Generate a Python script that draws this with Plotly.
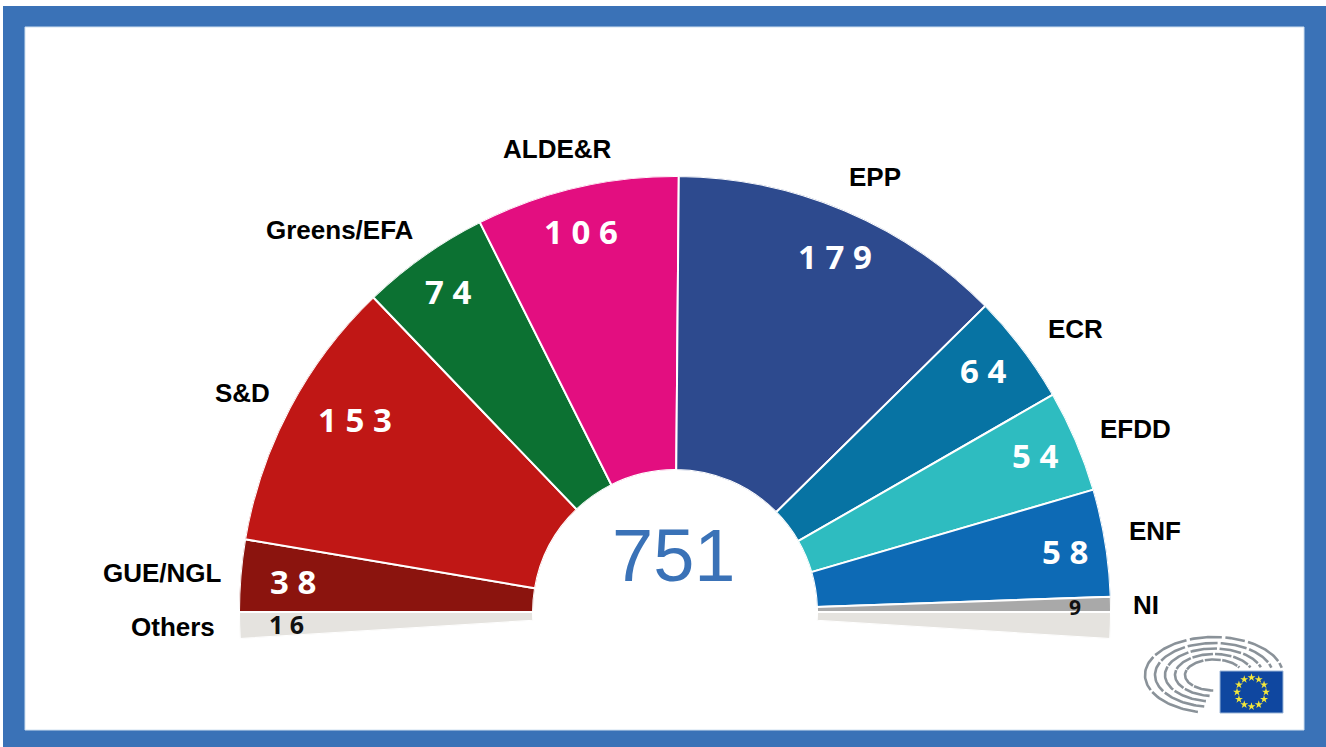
import numpy as np
import plotly.graph_objects as go

W, H = 1326, 747

# ---- data, ordered clockwise from the left end of the hemicycle ----
groups = ["Others", "GUE/NGL", "S&D", "Greens/EFA", "ALDE&R", "EPP", "ECR", "EFDD", "ENF", "NI", "Others"]
seats = [16, 38, 153, 74, 106, 179, 64, 54, 58, 9, 16]
# angular span of each sector, degrees
spans_deg = [3.55, 9.6, 36.6, 17.2, 27.1, 44.9, 14.7, 13.6, 14.3, 2.0, 3.55]
total_seats = 751
colors = ["#E5E3DF", "#8B140E", "#C01715", "#0C7132", "#E30E80", "#2D4A8E",
          "#0773A3", "#2EBCC0", "#0D6AB5", "#A9A9A9", "#E5E3DF"]

# ---- label placement (pixel centres) ----
name_xy = {"ALDE&R": (557, 149), "EPP": (875, 177), "Greens/EFA": (340, 230), "ECR": (1075, 329),
           "S&D": (242, 393), "EFDD": (1135, 429), "GUE/NGL": (162, 573), "ENF": (1155, 531),
           "Others": (173, 627), "NI": (1146, 605)}
value_xy = {"ALDE&R": (581, 231), "EPP": (835, 256), "Greens/EFA": (448, 291), "ECR": (983, 370),
            "S&D": (355, 419), "EFDD": (1035, 455), "GUE/NGL": (293, 581), "ENF": (1065, 551),
            "Others": (286, 624), "NI": (1075, 607)}

BLUE = "#3A72B7"
SANS = "Liberation Sans, Arial, sans-serif"
NUM = "Open Sans, Noto Sans, sans-serif"

# sector centres: start at the lower left end and run clockwise
edges = 180 + spans_deg[0] - np.concatenate([[0], np.cumsum(spans_deg)])
mids = (edges[:-1] + edges[1:]) / 2

fig = go.Figure()
fig.add_trace(go.Barpolar(
    r=[1] * len(seats), theta=mids, width=spans_deg,
    marker=dict(color=colors, line=dict(color="white", width=2)),
    text=groups, customdata=seats, hovertemplate="%{text}: %{customdata}<extra></extra>",
    showlegend=False,
))

# ---- parliament logo: broken concentric arcs, masked where the flag sits ----
lx, ly = 1214, 675
ring_scale = [(69, 38), (59, 32), (49, 26.5), (39, 21), (29, 15.5)]
ring_cuts = [[-12, 20, 62, 82, 112, 150, 205, 258],
             [-14, 22, 55, 85, 118, 155, 212, 262],
             [-16, 25, 55, 85, 120, 160, 215, 262],
             [-18, 28, 62, 90, 125, 165, 220, 265],
             [-20, 35, 75, 110, 160, 225, 270]]
xs, ys = [], []
for (rx, ry), cuts in zip(ring_scale, ring_cuts):
    for a0, a1 in zip(cuts[:-1], cuts[1:]):
        t = np.radians(np.linspace(a0 + 1.5, a1 - 1.5, 24))
        px = lx + rx * np.cos(t)
        py = ly - ry * np.sin(t)
        keep = ~((px > 1217) & (py > 668))
        for x, y, k in zip(px, py, keep):
            xs.append(float(x) if k else None)
            ys.append(float(y) if k else None)
        xs.append(None); ys.append(None)
fig.add_trace(go.Scatter(x=xs, y=ys, mode="lines", line=dict(color="#8A9299", width=2.6),
                         hoverinfo="skip", showlegend=False))
star_t = np.radians(np.arange(0, 360, 30))
fig.add_trace(go.Scatter(x=1251.5 + 14.5 * np.cos(star_t), y=692 + 14.5 * np.sin(star_t), mode="markers",
                         marker=dict(symbol="star", size=6, color="#F5E83A"),
                         hoverinfo="skip", showlegend=False))

annotations = []
def label(text, xy, size, color, family, bold=True):
    annotations.append(dict(
        x=xy[0], y=xy[1], xref="x", yref="y", text=f"<b>{text}</b>" if bold else text,
        showarrow=False, xanchor="center", yanchor="middle",
        font=dict(size=size, color=color, family=family)))

for name, xy in name_xy.items():
    label(name, xy, 26, "#000000", SANS)
for name, value in zip(groups[:-1], seats[:-1]):
    dark = name in ("Others", "NI")
    size = 25 if name == "Others" else 21 if name == "NI" else 33
    label(" ".join(str(value)), value_xy[name], size, "#111111" if dark else "#FFFFFF", NUM)
label(str(total_seats), (673, 555), 74, BLUE, SANS, bold=False)

shapes = [
    dict(type="rect", xref="x", yref="y", x0=3, y0=6, x1=W, y1=H, fillcolor=BLUE, line_width=0, layer="below"),
    dict(type="rect", xref="x", yref="y", x0=25, y0=27, x1=1304, y1=730, fillcolor="white",
         line=dict(color="#CFE0F0", width=1), layer="below"),
    dict(type="rect", xref="x", yref="y", x0=1220, y0=671, x1=1283, y1=713, fillcolor="#0F47A0",
         line=dict(color="#9DB7D8", width=1), layer="below"),
]

fig.update_layout(
    width=W, height=H, autosize=False,
    margin=dict(l=0, r=0, t=0, b=0),
    paper_bgcolor="white", plot_bgcolor="rgba(0,0,0,0)",
    showlegend=False,
    xaxis=dict(range=[0, W], domain=[0, 1], visible=False, fixedrange=True),
    yaxis=dict(range=[H, 0], domain=[0, 1], visible=False, fixedrange=True),
    polar=dict(
        domain=dict(x=[239 / W, 1111 / W], y=[1 - 639 / H, 1 - 176 / H]),
        sector=[-spans_deg[-1], 180 + spans_deg[0]],
        hole=142 / 436,
        bgcolor="rgba(0,0,0,0)",
        bargap=0,
        radialaxis=dict(range=[0, 1], visible=False, showgrid=False),
        angularaxis=dict(visible=False, showgrid=False, rotation=0, direction="counterclockwise"),
    ),
    annotations=annotations,
    shapes=shapes,
)
fig.write_html("out.html", config={"displayModeBar": False},
               post_script="document.body.style.margin='0';document.documentElement.style.overflow='hidden';")
